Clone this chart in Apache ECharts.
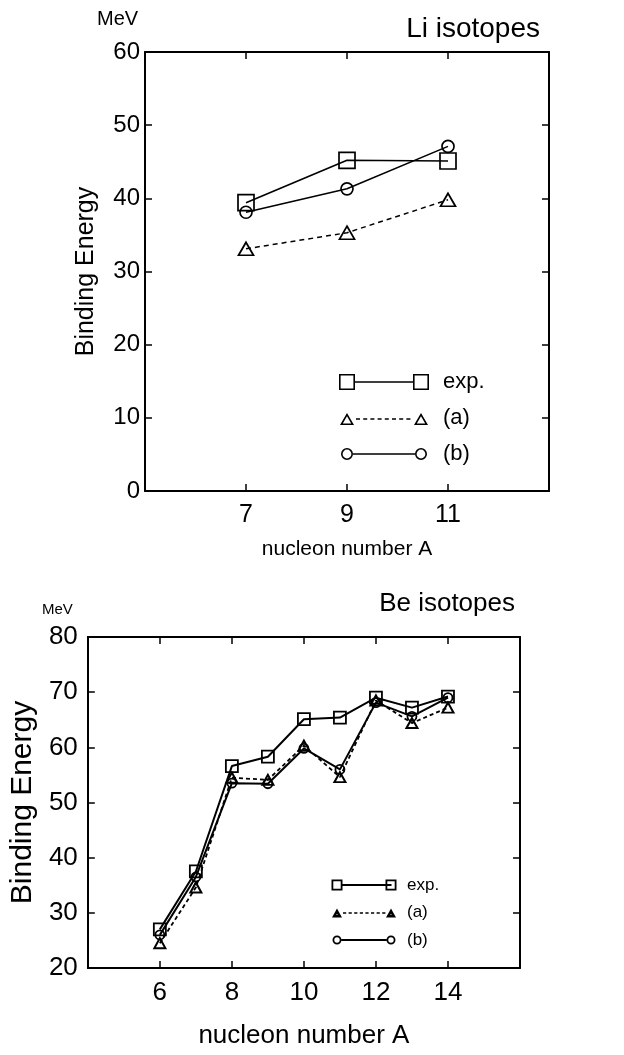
<!DOCTYPE html>
<html>
<head>
<meta charset="utf-8">
<script src="https://cdn.jsdelivr.net/npm/echarts@6/dist/echarts.min.js"></script>
<style>
html,body{margin:0;padding:0;background:#fff;}
#chart{width:624px;height:1055px;}
</style>
</head>
<body>
<div id="chart"></div>
<script>
// ---- Data ----
var liNucleon = [7, 9, 11];
var liExp = [39.4, 45.2, 45.1];
var liCalcA = [33.1, 35.3, 39.8];
var liCalcB = [38.1, 41.3, 47.1];

var beNucleon = [6, 7, 8, 9, 10, 11, 12, 13, 14];
var beExp = [27.0, 37.5, 56.6, 58.3, 65.1, 65.4, 69.0, 67.2, 69.2];
var beCalcA = [24.5, 34.6, 54.5, 54.1, 60.3, 54.6, 68.5, 64.4, 67.2];
var beCalcB = [26.0, 36.5, 53.5, 53.4, 59.8, 56.0, 68.1, 65.6, 69.0];

var seriesNames = ['exp.', '(a)', '(b)'];
var liTitle = 'Li isotopes';
var beTitle = 'Be isotopes';
var unitLabel = 'MeV';
var yName = 'Binding Energy';
var xName = 'nucleon number A';

function zip(xs, ys) { return xs.map(function (x, i) { return [x, ys[i]]; }); }

// ---- legend icon paths (style only) ----
function f(n) { return (+n.toFixed(3)).toString(); }
function rectP(x1, y1, x2, y2) { return 'M' + f(x1) + ' ' + f(y1) + 'L' + f(x2) + ' ' + f(y1) + 'L' + f(x2) + ' ' + f(y2) + 'L' + f(x1) + ' ' + f(y2) + 'Z'; }
function rectRev(x1, y1, x2, y2) { return 'M' + f(x1) + ' ' + f(y1) + 'L' + f(x1) + ' ' + f(y2) + 'L' + f(x2) + ' ' + f(y2) + 'L' + f(x2) + ' ' + f(y1) + 'Z'; }
function sq(cx, cy, s, t) { var h = s / 2; return rectP(cx - h, cy - h, cx + h, cy + h) + rectRev(cx - h + t, cy - h + t, cx + h - t, cy + h - t); }
function tri(cx, cy, w, hgt, t) {
  var top = cy - hgt / 2, bot = cy + hgt / 2;
  var gx = cx, gy = top + 2 * hgt / 3;
  var k = Math.max(0, 1 - 3 * t / hgt);
  var p = [[cx, top], [cx + w / 2, bot], [cx - w / 2, bot]];
  var s = 'M' + f(p[0][0]) + ' ' + f(p[0][1]) + 'L' + f(p[1][0]) + ' ' + f(p[1][1]) + 'L' + f(p[2][0]) + ' ' + f(p[2][1]) + 'Z';
  var q = p.map(function (v) { return [gx + (v[0] - gx) * k, gy + (v[1] - gy) * k]; });
  s += 'M' + f(q[0][0]) + ' ' + f(q[0][1]) + 'L' + f(q[2][0]) + ' ' + f(q[2][1]) + 'L' + f(q[1][0]) + ' ' + f(q[1][1]) + 'Z';
  return s;
}
function circ(cx, cy, r, t) {
  var ri = r - t;
  return 'M' + f(cx - r) + ' ' + f(cy) + 'A' + f(r) + ' ' + f(r) + ' 0 1 1 ' + f(cx + r) + ' ' + f(cy) + 'A' + f(r) + ' ' + f(r) + ' 0 1 1 ' + f(cx - r) + ' ' + f(cy) + 'Z' +
    'M' + f(cx - ri) + ' ' + f(cy) + 'A' + f(ri) + ' ' + f(ri) + ' 0 1 0 ' + f(cx + ri) + ' ' + f(cy) + 'A' + f(ri) + ' ' + f(ri) + ' 0 1 0 ' + f(cx - ri) + ' ' + f(cy) + 'Z';
}
function hline(x1, x2, cy, t) { return rectP(x1, cy - t / 2, x2, cy + t / 2); }
function dashes(x1, x2, cy, t, d, g) { var s = ''; for (var x = x1; x + d <= x2 + 0.01; x += d + g) s += hline(x, x + d, cy, t); return s; }
function frame(W, H) { return rectP(0, 0, 0.01, 0.01) + rectP(W - 0.01, H - 0.01, W, H); }

var W1 = 90, H1 = 16;
var liIcons = [
  'path://' + frame(W1, H1) + sq(8, 8, 16, 1.6) + hline(16, 74, 8, 1.5) + sq(82, 8, 16, 1.6),
  'path://' + frame(W1, H1) + tri(8, 9, 14, 12, 1.6) + dashes(17, 74, 9, 1.5, 4, 3.2) + tri(82, 9, 14, 12, 1.6),
  'path://' + frame(W1, H1) + circ(8, 8, 6, 1.6) + hline(14, 76, 8, 1.5) + circ(82, 8, 6, 1.6)
];
var W2 = 66, H2 = 12;
var beIcons = [
  'path://' + frame(W2, H2) + sq(6, 6, 11, 1.8) + hline(11.5, 60.5, 6, 1.8) + sq(60, 6, 11, 1.8),
  'path://' + frame(W2, H2) + tri(6, 6.5, 10, 9, 2.6) + dashes(12, 55, 6.5, 1.6, 3.2, 2.4) + tri(60, 6.5, 10, 9, 2.6),
  'path://' + frame(W2, H2) + circ(6, 6, 4.5, 1.8) + hline(10.5, 55.5, 6, 1.8) + circ(60, 6, 4.5, 1.8)
];

var FONT = 'Liberation Sans, Arial, Helvetica, sans-serif';
var BLACK = '#000';

function xAx(grid, min, max, interval, pos, opts) {
  var a = {
    gridIndex: grid, type: 'value', min: min, max: max, interval: interval, position: pos,
    axisLine: { show: true, onZero: false, lineStyle: { color: BLACK, width: 2 } },
    axisTick: { show: true, inside: true, length: 7, lineStyle: { color: BLACK, width: 1.5 } },
    splitLine: { show: false },
    axisLabel: { show: false }
  };
  return Object.assign(a, opts || {});
}

var option = {
  animation: false,
  backgroundColor: '#fff',
  textStyle: { fontFamily: FONT, color: BLACK },
  title: [
    { text: unitLabel, left: 97, top: 9, padding: 0, textStyle: { fontFamily: FONT, fontSize: 20, fontWeight: 'normal', color: BLACK } },
    { text: liTitle, right: 84, top: 15, padding: 0, textStyle: { fontFamily: FONT, fontSize: 28, fontWeight: 'normal', color: BLACK } },
    { text: unitLabel, left: 42, top: 602, padding: 0, textStyle: { fontFamily: FONT, fontSize: 15, fontWeight: 'normal', color: BLACK } },
    { text: beTitle, right: 109, top: 591, padding: 0, textStyle: { fontFamily: FONT, fontSize: 26, fontWeight: 'normal', color: BLACK } }
  ],
  grid: [
    { left: 145, right: 75, top: 52, bottom: 564 },
    { left: 80, right: 104, top: 637, bottom: 87 }
  ],
  legend: [
    {
      orient: 'vertical', left: 339, top: 370, itemWidth: W1, itemHeight: H1, itemGap: 12,
      selectedMode: false, padding: 0,
      itemStyle: { color: BLACK, borderWidth: 0 },
      textStyle: { fontFamily: FONT, fontSize: 22, color: BLACK, lineHeight: 24, padding: [0, 0, 0, 9] },
      data: seriesNames.map(function (n, i) { return { name: n, icon: liIcons[i] }; })
    },
    {
      orient: 'vertical', left: 331, top: 876, itemWidth: W2, itemHeight: H2, itemGap: 9.5,
      selectedMode: false, padding: 0,
      itemStyle: { color: BLACK, borderWidth: 0 },
      textStyle: { fontFamily: FONT, fontSize: 17, color: BLACK, lineHeight: 18, padding: [0, 0, 0, 5] },
      data: seriesNames.map(function (n, i) { return { name: n, icon: beIcons[i] }; })
    }
  ],
  xAxis: [
    xAx(0, 5, 13, 2, 'bottom', {
      axisLabel: { show: true, showMinLabel: false, showMaxLabel: false, fontFamily: FONT, fontSize: 25, color: BLACK, margin: 12 },
      name: xName, nameLocation: 'middle', nameGap: 48,
      nameTextStyle: { fontFamily: FONT, fontSize: 21, color: BLACK }
    }),
    xAx(0, 5, 13, 2, 'top'),
    xAx(1, 4, 16, 2, 'bottom', {
      axisLabel: { show: true, showMinLabel: false, showMaxLabel: false, fontFamily: FONT, fontSize: 26, color: BLACK, margin: 12 },
      name: xName, nameLocation: 'middle', nameGap: 55,
      nameTextStyle: { fontFamily: FONT, fontSize: 26, color: BLACK }
    }),
    xAx(1, 4, 16, 2, 'top')
  ],
  yAxis: [
    xAx(0, 0, 60, 10, 'left', {
      axisLabel: { show: true, fontFamily: FONT, fontSize: 24, color: BLACK, margin: 5 },
      name: yName, nameLocation: 'middle', nameGap: 46, nameRotate: 90,
      nameTextStyle: { fontFamily: FONT, fontSize: 25, color: BLACK }
    }),
    xAx(0, 0, 60, 10, 'right'),
    xAx(1, 20, 80, 10, 'left', {
      axisLabel: { show: true, fontFamily: FONT, fontSize: 26, color: BLACK, margin: 10 },
      name: yName, nameLocation: 'middle', nameGap: 42, nameRotate: 90,
      nameTextStyle: { fontFamily: FONT, fontSize: 30, color: BLACK }
    }),
    xAx(1, 20, 80, 10, 'right')
  ],
  series: [
    {
      name: seriesNames[0], type: 'line', xAxisIndex: 0, yAxisIndex: 0, data: zip(liNucleon, liExp),
      symbol: 'rect', symbolSize: 16, z: 3,
      itemStyle: { color: 'rgba(0,0,0,0)', borderColor: BLACK, borderWidth: 1.7 },
      lineStyle: { color: BLACK, width: 1.6, type: 'solid' }
    },
    {
      name: seriesNames[1], type: 'line', xAxisIndex: 0, yAxisIndex: 0, data: zip(liNucleon, liCalcA),
      symbol: 'triangle', symbolSize: [15, 13], z: 3,
      itemStyle: { color: 'rgba(0,0,0,0)', borderColor: BLACK, borderWidth: 1.7 },
      lineStyle: { color: BLACK, width: 1.5, type: [5, 4] }
    },
    {
      name: seriesNames[2], type: 'line', xAxisIndex: 0, yAxisIndex: 0, data: zip(liNucleon, liCalcB),
      symbol: 'circle', symbolSize: 12, z: 3,
      itemStyle: { color: 'rgba(0,0,0,0)', borderColor: BLACK, borderWidth: 1.7 },
      lineStyle: { color: BLACK, width: 1.6, type: 'solid' }
    },
    {
      name: seriesNames[0], type: 'line', xAxisIndex: 2, yAxisIndex: 2, data: zip(beNucleon, beExp),
      symbol: 'rect', symbolSize: 12, z: 3,
      itemStyle: { color: 'rgba(0,0,0,0)', borderColor: BLACK, borderWidth: 1.8 },
      lineStyle: { color: BLACK, width: 2, type: 'solid' }
    },
    {
      name: seriesNames[1], type: 'line', xAxisIndex: 2, yAxisIndex: 2, data: zip(beNucleon, beCalcA),
      symbol: 'triangle', symbolSize: [11, 10], z: 3,
      itemStyle: { color: 'rgba(0,0,0,0)', borderColor: BLACK, borderWidth: 2 },
      lineStyle: { color: BLACK, width: 1.8, type: [4, 3] }
    },
    {
      name: seriesNames[2], type: 'line', xAxisIndex: 2, yAxisIndex: 2, data: zip(beNucleon, beCalcB),
      symbol: 'circle', symbolSize: 9, z: 3,
      itemStyle: { color: 'rgba(0,0,0,0)', borderColor: BLACK, borderWidth: 1.8 },
      lineStyle: { color: BLACK, width: 2, type: 'solid' }
    }
  ]
};

var chart = echarts.init(document.getElementById('chart'), null, { renderer: 'canvas' });
chart.setOption(option);
</script>
</body>
</html>
